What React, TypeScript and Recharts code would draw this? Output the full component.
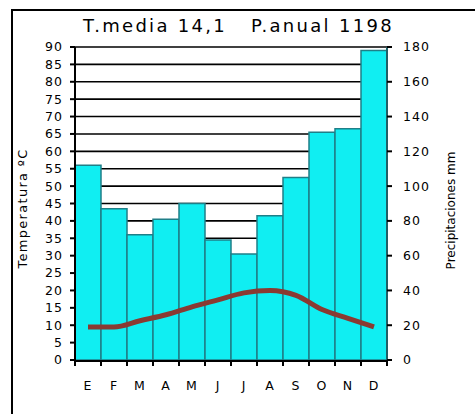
import React from 'react';
import { ComposedChart, Bar, Line, XAxis, YAxis, CartesianGrid } from 'recharts';

const months = ['E', 'F', 'M', 'A', 'M', 'J', 'J', 'A', 'S', 'O', 'N', 'D'];
const precip = [112, 87, 72, 81, 90, 69, 61, 83, 105, 131, 133, 178];
const temp = [9.5, 9.5, 11.3, 13, 15.3, 17.3, 19.3, 20, 18.6, 14.5, 12, 9.5];
const tempTicks = [0, 5, 10, 15, 20, 25, 30, 35, 40, 45, 50, 55, 60, 65, 70, 75, 80, 85, 90];
const precipTicks = [0, 20, 40, 60, 80, 100, 120, 140, 160, 180];
const boundaryTicks = [0, 1, 2, 3, 4, 5, 6, 7, 8, 9, 10, 11, 12];

const data = months.map((m, i) => ({ idx: i + 0.5, month: m, precip: precip[i], temp: temp[i] }));

const font = '"DejaVu Sans", Verdana, sans-serif';
const tickStyle = { fontSize: 12.5, fill: '#000', fontFamily: font, letterSpacing: 1 };

export default function App() {
  return (
    <div style={{ position: 'absolute', left: 0, top: 0, width: 475, height: 414, background: '#fff', overflow: 'hidden' }}>
      <div
        style={{
          position: 'absolute',
          left: 11,
          top: 9,
          width: 464,
          height: 405,
          borderTop: '2px solid #000',
          borderLeft: '2px solid #000',
          boxSizing: 'border-box',
        }}
      />
      <div
        style={{
          position: 'absolute',
          left: 83,
          top: 15,
          fontFamily: font,
          fontSize: 18,
          letterSpacing: 2.3,
          whiteSpace: 'pre',
          color: '#000',
        }}
      >
        {'T.media 14,1   P.anual 1198'}
      </div>
      <div style={{ position: 'absolute', left: 0, top: 0 }}>
        <ComposedChart
          width={475}
          height={414}
          data={data}
          margin={{ top: 47, right: 0, bottom: 20, left: 0 }}
          barCategoryGap={0}
        >
          <CartesianGrid yAxisId="t" vertical={false} stroke="#000" strokeWidth={1.6} />
          <XAxis
            xAxisId="b"
            type="number"
            dataKey="idx"
            domain={[0, 12]}
            ticks={boundaryTicks}
            height={1}
            tick={() => <g />}
            axisLine={false}
            tickLine={{ stroke: '#000', strokeWidth: 2 }}
            tickSize={6}
          />
          <XAxis
            xAxisId="c"
            dataKey="month"
            height={33}
            axisLine={{ stroke: '#000', strokeWidth: 2 }}
            tickLine={false}
            tick={tickStyle}
            tickMargin={14}
            interval={0}
          />
          <YAxis
            yAxisId="t"
            orientation="left"
            width={75}
            domain={[0, 90]}
            ticks={tempTicks}
            interval={0}
            tick={tickStyle}
            tickSize={5}
            tickMargin={7}
            axisLine={{ stroke: '#000', strokeWidth: 2 }}
            tickLine={{ stroke: '#000', strokeWidth: 2 }}
            label={{
              value: 'Temperatura ºC',
              angle: -90,
              position: 'insideLeft',
              offset: 22,
              dy: 5,
              style: { textAnchor: 'middle', fontSize: 13, fill: '#000', fontFamily: font, letterSpacing: 1.3 },
            }}
          />
          <YAxis
            yAxisId="p"
            orientation="right"
            width={88}
            domain={[0, 180]}
            ticks={precipTicks}
            interval={0}
            tick={{ ...tickStyle, textAnchor: 'start' }}
            tickSize={5}
            tickMargin={11}
            axisLine={{ stroke: '#1f5f66', strokeWidth: 2 }}
            tickLine={{ stroke: '#000', strokeWidth: 2 }}
            label={{
              value: 'Precipitaciones mm',
              angle: -90,
              position: 'insideRight',
              offset: 24,
              dy: 7,
              style: { textAnchor: 'middle', fontSize: 12, fill: '#000', fontFamily: font },
            }}
          />
          <Bar
            xAxisId="c"
            yAxisId="p"
            dataKey="precip"
            fill="#10eef2"
            stroke="#1f7f88"
            strokeWidth={1.5}
            isAnimationActive={false}
          />
          <Line
            xAxisId="c"
            yAxisId="t"
            dataKey="temp"
            type="monotone"
            stroke="#8a3a32"
            strokeWidth={5}
            dot={false}
            activeDot={false}
            isAnimationActive={false}
          />
        </ComposedChart>
      </div>
    </div>
  );
}
